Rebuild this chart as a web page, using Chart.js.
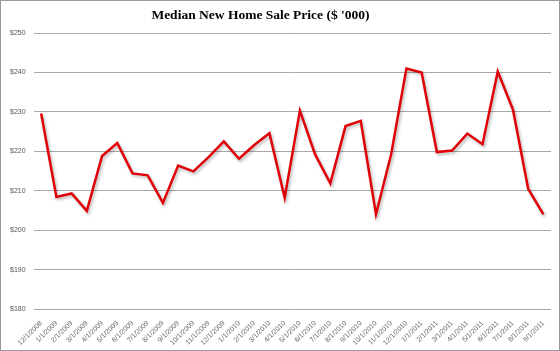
<!DOCTYPE html>
<html>
<head>
<meta charset="utf-8">
<script src="https://cdn.jsdelivr.net/npm/chart.js@4"></script>
<style>
  html, body { margin: 0; padding: 0; background: #fff; }
  #wrap { width: 560px; height: 351px; position: relative; }
  #grafica { outline: 1px solid #9a9a9a; outline-offset: -1px; }
  #titulo {
    position: absolute; left: 0; top: 6px; width: 521px;
    text-align: center; font: bold 13.5px 'Liberation Serif', serif;
    color: #000; line-height: 17px;
  }
</style>
</head>
<body>
<div id="wrap">
  <canvas id="grafica" width="560" height="351"></canvas>
  <div id="titulo">Median New Home Sale Price ($ '000)</div>
</div>
<script>
// Precio mediano de vivienda nueva, miles de dólares
const meses = [
  '12/1/2008',
  '1/1/2009','2/1/2009','3/1/2009','4/1/2009','5/1/2009','6/1/2009',
  '7/1/2009','8/1/2009','9/1/2009','10/1/2009','11/1/2009','12/1/2009',
  '1/1/2010','2/1/2010','3/1/2010','4/1/2010','5/1/2010','6/1/2010',
  '7/1/2010','8/1/2010','9/1/2010','10/1/2010','11/1/2010','12/1/2010',
  '1/1/2011','2/1/2011','3/1/2011','4/1/2011','5/1/2011','6/1/2011',
  '7/1/2011','8/1/2011','9/1/2011'
];
const precios = [
  229.6,
  208.4, 209.3, 204.9, 218.8, 222.1, 214.4,
  213.9, 206.9, 216.4, 214.9, 218.5, 222.5,
  218.1, 221.6, 224.6, 208.2, 230.3, 219.2,
  211.9, 226.4, 227.7, 204.0, 219.3, 241.0,
  240.0, 219.8, 220.2, 224.5, 221.8, 240.2,
  230.6, 210.5, 204.0
];
const ejeMin  = 180;
const ejeMax  = 250;
const ejePaso = 10;

// Sombra suave bajo la línea
const sombra = {
  id: 'sombra',
  beforeDatasetDraw(chart) {
    const c = chart.ctx;
    c.save();
    c.shadowColor = 'rgba(0,0,0,0.28)';
    c.shadowBlur = 3;
    c.shadowOffsetX = 1.5;
    c.shadowOffsetY = 2;
  },
  afterDatasetDraw(chart) { chart.ctx.restore(); }
};

const fuenteEje = { family: 'Liberation Sans', size: 7 };

new Chart(document.getElementById('grafica'), {
  type: 'line',
  data: {
    labels: meses,
    datasets: [{
      label: 'Median New Home Sale Price',
      data: precios,
      borderColor: '#e00008',
      borderWidth: 2.5,
      pointRadius: 0,
      tension: 0,
      fill: false
    }]
  },
  options: {
    responsive: false,
    animation: false,
    // el título va en HTML, aquí sólo se reserva su espacio
    layout: { padding: { left: 2, right: 9, top: 33, bottom: 2 } },
    plugins: {
      legend: { display: false },
      tooltip: { enabled: false },
      title: { display: false }
    },
    scales: {
      x: {
        offset: true,
        grid: { display: false },
        border: { display: false },
        ticks: {
          autoSkip: false,
          minRotation: 45,
          maxRotation: 45,
          color: '#666',
          font: fuenteEje,
          padding: 2
        }
      },
      y: {
        min: ejeMin,
        max: ejeMax,
        border: { display: false },
        grid: { color: '#a8a8a8', lineWidth: 1, drawTicks: false },
        ticks: {
          stepSize: ejePaso,
          color: '#555',
          font: fuenteEje,
          padding: 8,
          callback: v => '$' + v
        }
      }
    }
  },
  plugins: [sombra]
});
</script>
</body>
</html>
